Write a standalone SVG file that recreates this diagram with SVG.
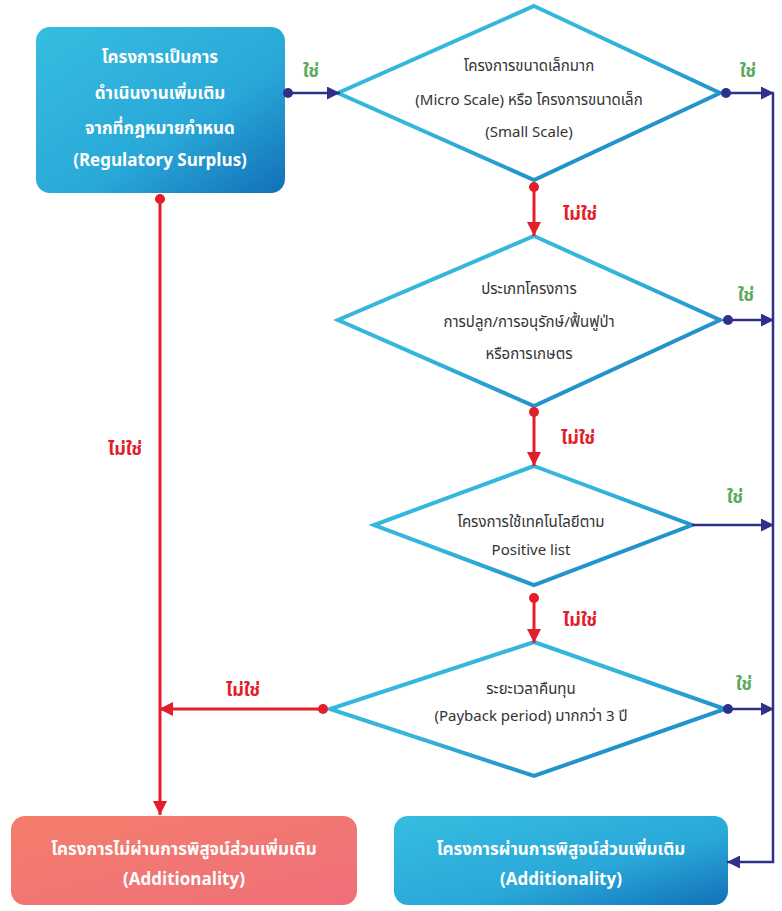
<svg xmlns="http://www.w3.org/2000/svg" width="782" height="911" viewBox="0 0 782 911">
<defs>
<linearGradient id="gb" x1="0" y1="0" x2="1" y2="1"><stop offset="0" stop-color="#36bde0"/><stop offset="0.6" stop-color="#29a8d8"/><stop offset="1" stop-color="#1270b8"/></linearGradient>
<linearGradient id="gr" x1="0" y1="0" x2="1" y2="1"><stop offset="0" stop-color="#f47e6b"/><stop offset="1" stop-color="#ef6f7a"/></linearGradient>
<linearGradient id="gd" x1="0" y1="0" x2="1" y2="1"><stop offset="0.45" stop-color="#35b6dc"/><stop offset="1" stop-color="#1378bd"/></linearGradient>
<marker id="ab" viewBox="0 0 10 10" refX="10" refY="5" markerWidth="13" markerHeight="13" orient="auto" markerUnits="userSpaceOnUse"><path d="M0,0L10,5L0,10z" fill="#2e3187"/></marker>
<marker id="ar" viewBox="0 0 10 10" refX="10" refY="5" markerWidth="14" markerHeight="14" orient="auto" markerUnits="userSpaceOnUse"><path d="M0,0L10,5L0,10z" fill="#e31d2a"/></marker>
</defs>
<style>
text{font-family:"Noto Sans Thai","Noto Sans","DejaVu Sans",sans-serif;text-anchor:middle}
.w{fill:#fff;font-weight:bold;font-size:17px}
.d{fill:#333;font-size:15px}
.y{fill:#5aab5e;font-size:18px;font-weight:bold}
.n{fill:#e31d2a;font-size:18px;font-weight:bold}
.dia{fill:#fff;stroke:url(#gd);stroke-width:4}
.b{stroke:#2e3187;stroke-width:2.5;fill:none}
.r{stroke:#e31d2a;stroke-width:3;fill:none}
</style>
<g id="start"><rect x="36" y="27" width="249" height="166" rx="14" fill="url(#gb)"/>
<text class="w" x="160" y="63">โครงการเป็นการ</text><text class="w" x="160" y="99">ดำเนินงานเพิ่มเติม</text><text class="w" x="160" y="134">จากที่กฎหมายกำหนด</text><text class="w" x="160" y="166">(Regulatory Surplus)</text></g>
<g id="d1"><path class="dia" d="M534,6L720,93L534,180L338,93z"/>
<text class="d" x="529" y="71">โครงการขนาดเล็กมาก</text><text class="d" x="529" y="105">(Micro Scale) หรือ โครงการขนาดเล็ก</text><text class="d" x="529" y="137">(Small Scale)</text></g>
<g id="d2"><path class="dia" d="M534,236L720,320L534,406L338,320z"/>
<text class="d" x="529" y="294">ประเภทโครงการ</text><text class="d" x="529" y="327">การปลูก/การอนุรักษ์/ฟื้นฟูป่า</text><text class="d" x="529" y="359">หรือการเกษตร</text></g>
<g id="d3"><path class="dia" d="M534,466L692,525L534,585L374,525z"/>
<text class="d" x="531" y="527">โครงการใช้เทคโนโลยีตาม</text><text class="d" x="531" y="555">Positive list</text></g>
<g id="d4"><path class="dia" d="M534,642L725,709L534,776L330,709z"/>
<text class="d" x="531" y="694">ระยะเวลาคืนทุน</text><text class="d" x="531" y="721">(Payback period) มากกว่า 3 ปี</text></g>
<g id="fail"><rect x="11" y="816" width="346" height="89" rx="14" fill="url(#gr)"/>
<text class="w" x="184" y="855">โครงการไม่ผ่านการพิสูจน์ส่วนเพิ่มเติม</text><text class="w" x="184" y="885">(Additionality)</text></g>
<g id="pass"><rect x="394" y="816" width="334" height="89" rx="14" fill="url(#gb)"/>
<text class="w" x="561" y="855">โครงการผ่านการพิสูจน์ส่วนเพิ่มเติม</text><text class="w" x="561" y="885">(Additionality)</text></g>
<g id="connectors">
<path class="b" d="M288,93H340" marker-end="url(#ab)"/><circle cx="288" cy="93" r="5" fill="#2e3187"/>
<path class="b" d="M726,93H774" marker-end="url(#ab)"/><circle cx="726" cy="93" r="5" fill="#2e3187"/>
<path class="b" d="M728,320H774" marker-end="url(#ab)"/><circle cx="728" cy="320" r="5" fill="#2e3187"/>
<path class="b" d="M692,525H774" marker-end="url(#ab)"/>
<path class="b" d="M728,709H774" marker-end="url(#ab)"/><circle cx="728" cy="709" r="5" fill="#2e3187"/>
<path class="b" d="M773,93V862H727" marker-end="url(#ab)"/>
<path class="r" d="M534,187V236" marker-end="url(#ar)"/><circle cx="534" cy="187" r="5" fill="#e31d2a"/>
<path class="r" d="M534,412V466" marker-end="url(#ar)"/><circle cx="534" cy="412" r="5" fill="#e31d2a"/>
<path class="r" d="M534,598V643" marker-end="url(#ar)"/><circle cx="534" cy="598" r="5" fill="#e31d2a"/>
<path class="r" d="M323,709H159" marker-end="url(#ar)"/><circle cx="323" cy="709" r="5" fill="#e31d2a"/>
<path class="r" d="M160,199V815" marker-end="url(#ar)"/><circle cx="160" cy="199" r="5" fill="#e31d2a"/>
<text class="y" x="311" y="77">ใช่</text><text class="y" x="748" y="77">ใช่</text><text class="y" x="746" y="301">ใช่</text><text class="y" x="735" y="503">ใช่</text><text class="y" x="744" y="690">ใช่</text>
<text class="n" x="580" y="220">ไม่ใช่</text><text class="n" x="578" y="444">ไม่ใช่</text><text class="n" x="580" y="626">ไม่ใช่</text><text class="n" x="243" y="696">ไม่ใช่</text><text class="n" x="125" y="455">ไม่ใช่</text>
</g>
</svg>
